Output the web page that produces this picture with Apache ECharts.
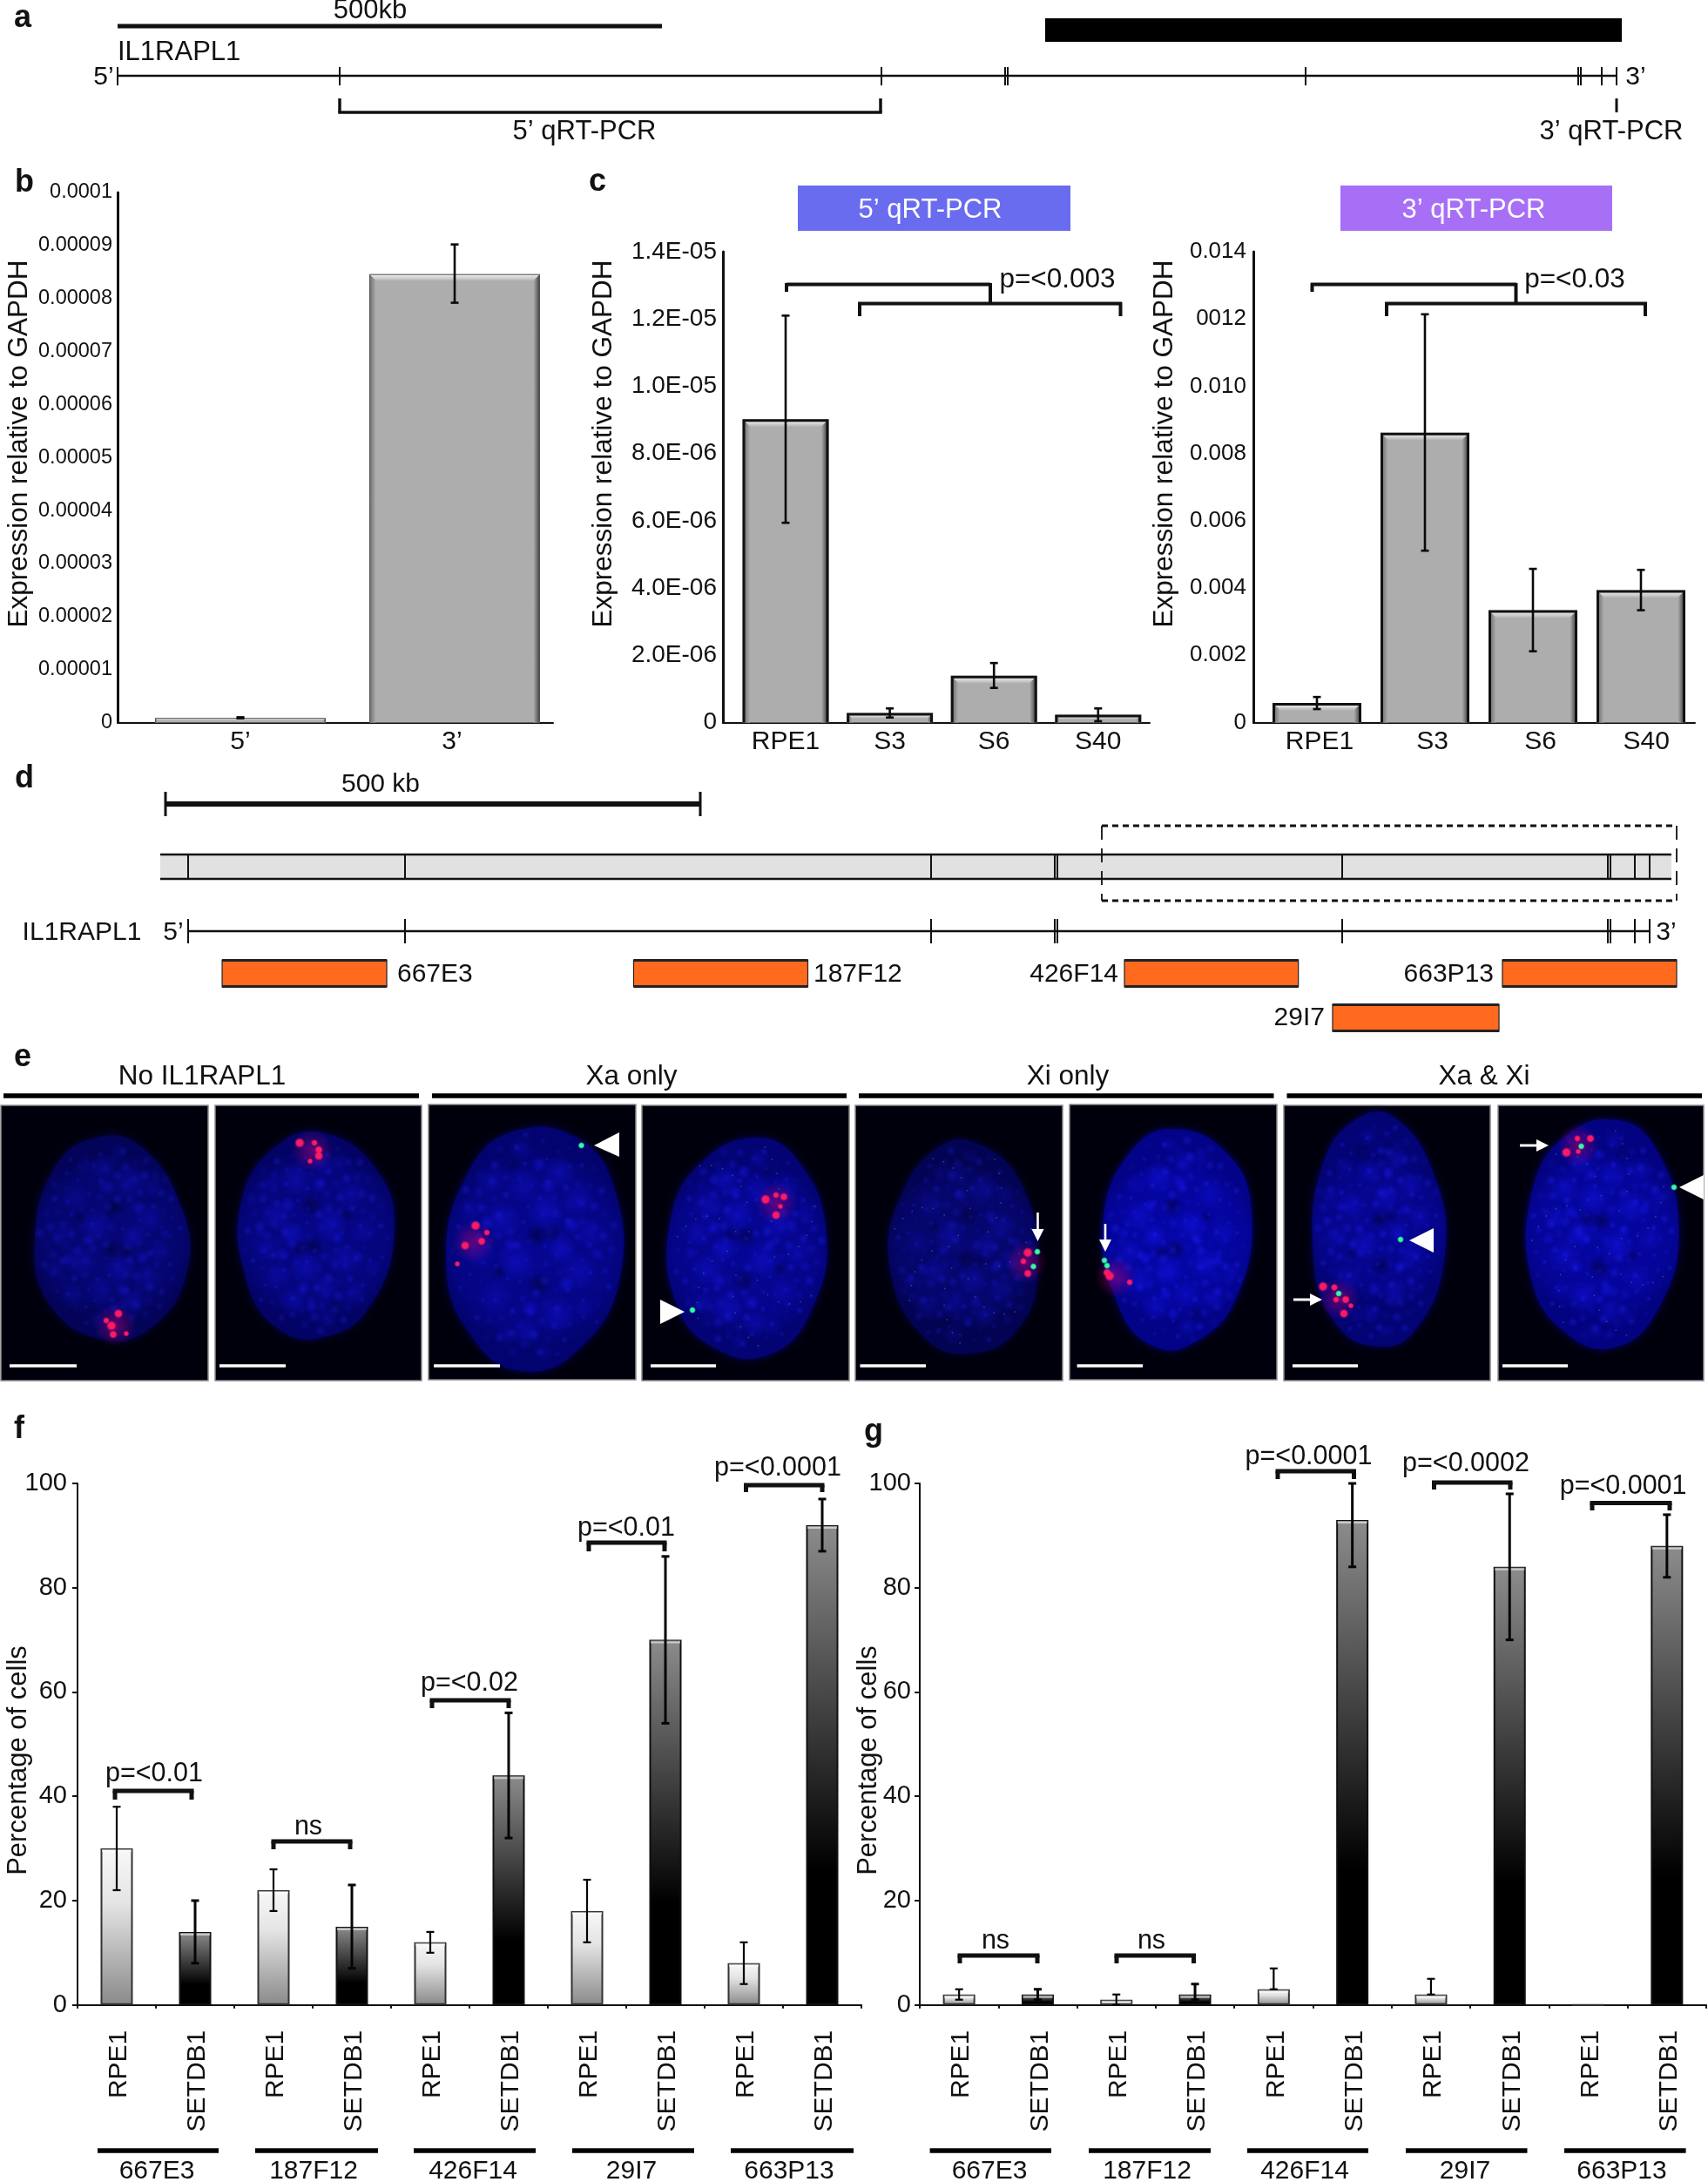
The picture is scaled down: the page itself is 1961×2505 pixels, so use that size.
<!DOCTYPE html>
<html><head><meta charset="utf-8"><title>IL1RAPL1</title>
<script src="https://cdn.jsdelivr.net/npm/echarts@6/dist/echarts.min.js"></script>
<style>html,body{margin:0;padding:0;background:#fff}#c{width:1961px;height:2505px}</style></head>
<body><div id="c"></div>
<script>
// ---------- panel b ----------
const bCategories=['5’','3’'];
const bValues=[8.7e-7,8.46e-5];
const bHigh=[1.0e-6,9.02e-5];
const bLow=[8.0e-7,7.92e-5];
const bTicks=['0','0.00001','0.00002','0.00003','0.00004','0.00005','0.00006','0.00007','0.00008','0.00009','0.0001'];
// ---------- panel c ----------
const cCategories=['RPE1','S3','S6','S40'];
const c5Values=[9.02e-6,2.85e-7,1.39e-6,2.3e-7];
const c5High=[1.21e-5,4.2e-7,1.77e-6,4.2e-7];
const c5Low=[5.94e-6,1.5e-7,1.03e-6,4e-8];
const c5Ticks=['0','2.0E-06','4.0E-06','6.0E-06','8.0E-06','1.0E-05','1.2E-05','1.4E-05'];
const c3Values=[5.8e-4,8.62e-3,3.34e-3,3.94e-3];
const c3High=[7.6e-4,1.214e-2,4.57e-3,4.54e-3];
const c3Low=[4.0e-4,5.11e-3,2.12e-3,3.34e-3];
const c3Ticks=['0','0.002','0.004','0.006','0.008','0.010','0012','0.014'];
// ---------- panels f, g ----------
const probes=['667E3','187F12','426F14','29I7','663P13'];
const cellLines=['RPE1','SETDB1'];
const pctTicks=['0','20','40','60','80','100'];
const fRpe1=[30,22,12,18,8];
const fRpe1High=[38,26,14,24,12];
const fRpe1Low=[22,18,10,12,4];
const fSetdb1=[14,15,44,70,92];
const fSetdb1High=[20,23,56,86,97];
const fSetdb1Low=[8,7,32,54,87];
const gRpe1=[2,1,3,2,0];
const gRpe1High=[3,2,7,5,null];
const gRpe1Low=[1,0,3,2,null];
const gSetdb1=[2,2,93,84,88];
const gSetdb1High=[3,4,100,98,94];
const gSetdb1Low=[1,1,84,70,82];
// ---------- gene models (kb from the 5' end) ----------
const exonsA=[0,204,701.6,815.2,817.6,1091,1341.6,1344,1363,1377];
const exonsD=[0,202.8,694.6,810.3,812.7,1079,1327.4,1329.8,1352.6,1366.4];
const cloneNames=['667E3','187F12','426F14','663P13','29I7'];
const cloneStart=[31.8,416.5,875.4,1228.8,1070];
const cloneEnd=[185.7,579.4,1038,1391.7,1225.6];
const cloneRow=[0,0,0,0,1];

const FONT='"Liberation Sans",Arial,sans-serif', INK='#111';
const grids=[],xAxes=[],yAxes=[],series=[],gfx=[];

// graphic helpers
const line=(x1,y1,x2,y2,w,c,dash)=>gfx.push({type:'line',silent:true,shape:{x1,y1,x2,y2},style:{stroke:c||INK,lineWidth:w||2,lineDash:dash||null}});
const rect=(x,y,w,h,fill,stroke,lw)=>gfx.push({type:'rect',silent:true,shape:{x,y,width:w,height:h},style:{fill,stroke:stroke||null,lineWidth:lw||0}});
const txt=(s,x,y,size,o)=>{o=o||{};const r=o.rot||0;gfx.push({type:'text',silent:true,x:r?x+1.5:x,y:r?y:y+1.5,rotation:r,style:{text:s,fontSize:size,fontFamily:FONT,fontWeight:o.bold?'bold':'normal',fill:o.fill||INK,textAlign:o.align||'center',textVerticalAlign:'middle'}});};
const tri=(pts,fill)=>gfx.push({type:'polygon',silent:true,shape:{points:pts},style:{fill:fill||'#fff'}});
const bracket=(x1,x2,y,leg,w)=>{const h=(w||5)/2;line(x1-h,y,x2+h,y,w||5);line(x1,y,x1,leg,w||5);line(x2,y,x2,leg,w||5);};
const lgrad=(x,y,x2,y2,a,b)=>({type:'linear',x,y,x2,y2,colorStops:[{offset:0,color:a},{offset:1,color:b}]});

// ---------- bevelled bars on a value x axis (b, c) ----------
function bevelPanel(o){
  const g=grids.length;
  grids.push({left:o.left,top:o.top,width:o.right-o.left,height:o.bottom-o.top,containLabel:false});
  xAxes.push({gridIndex:g,type:'value',min:(o.left-o.c0)/o.sp,max:(o.right-o.c0)/o.sp,splitLine:{show:false},axisTick:{show:false},
    axisLine:{show:true,onZero:false,lineStyle:{color:INK,width:o.xw||2}},
    axisLabel:{customValues:o.labelAt,formatter:v=>o.cats[Math.round(v)],color:INK,fontFamily:FONT,fontSize:30,margin:7,hideOverlap:false}});
  yAxes.push({gridIndex:g,type:'value',min:0,max:o.max,interval:o.interval,splitLine:{show:false},axisTick:{show:false},
    axisLine:{show:true,onZero:false,lineStyle:{color:INK,width:3}},
    axisLabel:{formatter:v=>o.ticks[Math.round(v/o.interval)],color:INK,fontFamily:FONT,fontSize:o.tickSize,margin:o.tickMargin,showMinLabel:true,showMaxLabel:true}});
  series.push({type:'bar',name:o.name,xAxisIndex:g,yAxisIndex:g,barWidth:o.barW,data:o.values.map((v,i)=>[i,v]),z:2,
    itemStyle:{color:'#adadad'}});
  const bev=o.bevel, W=o.barW, bw=o.bw;
  series.push({type:'custom',name:o.name+' bevel',silent:true,xAxisIndex:g,yAxisIndex:g,z:3,data:o.values.map((v,i)=>[i,v]),
    renderItem:(p,api)=>{
      const a=api.coord([api.value(0),api.value(1)]),b=api.coord([api.value(0),0]);
      const L=a[0]-W/2,R=a[0]+W/2,T=a[1],bt=b[1];
      const l=L+bw/2,r=R-bw/2,t=T+bw/2;
      const B=Math.min(bev,(bt-t)/2);
      const bs={stroke:o.border,lineWidth:bw};
      return {type:'group',children:[
        {type:'polygon',shape:{points:[[l,t],[r,t],[r-B,t+B],[l+B,t+B]]},style:{fill:lgrad(0,0,0,1,'#f2f2f2','#b4b4b4')}},
        {type:'polygon',shape:{points:[[l,t],[l+B,t+B],[l+B,bt],[l,bt]]},style:{fill:lgrad(0,0,1,0,'#6e6e6e','#adadad')}},
        {type:'polygon',shape:{points:[[r,t],[r-B,t+B],[r-B,bt],[r,bt]]},style:{fill:lgrad(1,0,0,0,'#454545','#adadad')}},
        {type:'polyline',shape:{points:[[l,bt],[l,t],[r,t],[r,bt]]},style:{...bs,fill:null}}
      ]};
    }});
  series.push({type:'custom',name:o.name+' error',silent:true,xAxisIndex:g,yAxisIndex:g,z:4,data:o.high.map((h,i)=>[i,h,o.low[i]]),
    encode:{x:0,y:[1,2]},
    renderItem:(p,api)=>{
      const a=api.coord([api.value(0),api.value(1)]),b=api.coord([api.value(0),api.value(2)]);
      const st={stroke:'#0a0a0a',lineWidth:2.6},c=4.5;
      return {type:'group',children:[
        {type:'line',shape:{x1:a[0],y1:a[1],x2:b[0],y2:b[1]},style:st},
        {type:'line',shape:{x1:a[0]-c,y1:a[1],x2:a[0]+c,y2:a[1]},style:st},
        {type:'line',shape:{x1:b[0]-c,y1:b[1],x2:b[0]+c,y2:b[1]},style:st}]};
    }});
}
bevelPanel({name:'b',left:135,right:635,top:221,bottom:829.5,c0:276,sp:246,barW:196,bw:1,bevel:7,border:'#555',cats:bCategories,labelAt:[0,0.988],
  values:bValues,high:bHigh,low:bLow,max:1e-4,interval:1e-5,ticks:bTicks,tickSize:23.5,tickMargin:6});
bevelPanel({name:'c5',left:830,right:1320,top:289,bottom:829.5,c0:902,sp:119.6,barW:99,bw:3,bevel:7,border:'#111',cats:cCategories,labelAt:[0,1,2,3],
  values:c5Values,high:c5High,low:c5Low,max:1.4e-5,interval:2e-6,ticks:c5Ticks,tickSize:28,tickMargin:7});
bevelPanel({name:'c3',left:1439,right:1946,top:289,bottom:829.5,c0:1512,sp:124,barW:102,bw:3,bevel:7,border:'#111',cats:cCategories,labelAt:[0.024,1.07,2.07,3.05],
  values:c3Values,high:c3High,low:c3Low,max:0.014,interval:0.002,ticks:c3Ticks,tickSize:26,tickMargin:8});

// ---------- grouped percentage panels (f, g) ----------
function pctPanel(o){
  const g=grids.length;
  grids.push({left:o.left,top:1703,width:o.right-o.left,height:2301.7-1703,containLabel:false});
  const cats=[];probes.forEach(()=>cats.push(...cellLines));
  xAxes.push({gridIndex:g,type:'category',data:cats,axisTick:{show:true,length:4,lineStyle:{color:INK,width:2}},
    axisLine:{lineStyle:{color:INK,width:2}},
    axisLabel:{interval:0,rotate:90,margin:29,verticalAlign:'top',padding:[-12,0,0,0],color:INK,fontFamily:FONT,fontSize:30}});
  yAxes.push({gridIndex:g,type:'value',min:0,max:100,interval:20,splitLine:{show:false},axisTick:{show:true,length:6,lineStyle:{color:INK,width:2}},
    axisLine:{show:true,lineStyle:{color:INK,width:2}},
    axisLabel:{formatter:v=>pctTicks[Math.round(v/20)],color:INK,fontFamily:FONT,fontSize:29,margin:o.margin}});
  const every=(arr,off)=>{const r=[];arr.forEach(v=>{if(off)r.push(null);r.push(v);if(!off)r.push(null);});return r;};
  const lg=c=>({type:'linear',x:0,y:0,x2:0,y2:1,colorStops:c});
  series.push({type:'bar',name:'RPE1',xAxisIndex:g,yAxisIndex:g,barWidth:37,barGap:'-100%',z:2,data:every(o.rpe,0),
    itemStyle:{color:lg([{offset:0,color:'#f8f8f8'},{offset:.35,color:'#e4e4e4'},{offset:1,color:'#8a8a8a'}]),borderColor:'#333',borderWidth:2}});
  series.push({type:'bar',name:'SETDB1',xAxisIndex:g,yAxisIndex:g,barWidth:37,barGap:'-100%',z:2,data:every(o.set,1),
    itemStyle:{color:lg([{offset:0,color:'#8c8c8c'},{offset:.72,color:'#000'},{offset:1,color:'#000'}]),borderColor:'#111',borderWidth:2}});
  const ers=[];
  o.rpe.forEach((v,i)=>ers.push([i*2,v,o.rpeH[i],o.rpeL[i],2.2]));
  o.set.forEach((v,i)=>ers.push([i*2+1,v,o.setH[i],o.setL[i],3]));
  series.push({type:'custom',name:o.name+' error',silent:true,xAxisIndex:g,yAxisIndex:g,z:4,data:ers,encode:{x:0,y:[2,3]},
    renderItem:(p,api)=>{
      const i=api.value(0),top=api.coord([i,api.value(1)]),a=api.coord([i,api.value(2)]),b=api.coord([i,api.value(3)]);
      const kids=[];
      if(api.value(1)>0) kids.push({type:'rect',shape:{x:top[0]-17,y:top[1]+1,width:34,height:3},style:{fill:'rgba(255,255,255,.55)'}});
      if(!isNaN(api.value(2))){
        const st={stroke:'#050505',lineWidth:api.value(4)},c=4.5;
        kids.push({type:'line',shape:{x1:a[0],y1:a[1],x2:b[0],y2:b[1]},style:st},
          {type:'line',shape:{x1:a[0]-c,y1:a[1],x2:a[0]+c,y2:a[1]},style:st},
          {type:'line',shape:{x1:b[0]-c,y1:b[1],x2:b[0]+c,y2:b[1]},style:st});
      }
      return {type:'group',children:kids};
    }});
}
pctPanel({name:'f',left:89,right:989,margin:12,rpe:fRpe1,rpeH:fRpe1High,rpeL:fRpe1Low,set:fSetdb1,setH:fSetdb1High,setL:fSetdb1Low});
pctPanel({name:'g',left:1056,right:1959,margin:10,rpe:gRpe1,rpeH:gRpe1High,rpeL:gRpe1Low,set:gSetdb1,setH:gSetdb1High,setL:gSetdb1Low});

// ---------- gene-model tracks on hidden kb axes ----------
function kbAxis(origin,pxPerKb){
  const g=grids.length;
  grids.push({left:0,top:0,width:1961,height:2505,containLabel:false});
  xAxes.push({gridIndex:g,type:'value',show:false,min:-origin/pxPerKb,max:(1961-origin)/pxPerKb});
  yAxes.push({gridIndex:g,type:'value',show:false,min:0,max:1});
  return g;
}
function exonTrack(g,kbs,y1,y2,w,name){
  series.push({type:'custom',name,silent:true,xAxisIndex:g,yAxisIndex:g,z:3,data:kbs.map(k=>[k,0]),
    renderItem:(p,api)=>{const x=Math.round(api.coord([api.value(0),0])[0]);
      return {type:'line',shape:{x1:x,y1,x2:x,y2},style:{stroke:INK,lineWidth:w}};}});
}
const gA=kbAxis(135,1.25), gD=kbAxis(216,1.228);
exonTrack(gA,exonsA,77,98,2,'exons a');
exonTrack(gD,exonsD,981,1009,2,'exons d band');
exonTrack(gD,exonsD,1055,1083,2,'exons d');
const cloneY=[1102,1153];
series.push({type:'custom',name:'BAC clones',silent:true,xAxisIndex:gD,yAxisIndex:gD,z:3,
  data:cloneStart.map((s,i)=>[s,cloneEnd[i],cloneRow[i]]),
  renderItem:(p,api)=>{
    const a=api.coord([api.value(0),0])[0],b=api.coord([api.value(1),0])[0],y=cloneY[api.value(2)],h=31;
    return {type:'group',children:[
      {type:'rect',shape:{x:a,y,width:b-a,height:h},style:{fill:'#ff6a1f',stroke:'#222',lineWidth:1.2}},
      {type:'rect',shape:{x:a,y:y-1,width:b-a,height:3},style:{fill:'#222'}},
      {type:'rect',shape:{x:a,y:y+h-2,width:b-a,height:3},style:{fill:'#222'}}]};
  }});

// ---------- panel letters ----------
[['a',26,19.5],['b',28,208.5],['c',686,208],['d',28,893],['e',26,1212.5],['f',22,1639.5],['g',1003,1642.5]].forEach(l=>txt(l[0],l[1],l[2],36,{bold:true}));

// ---------- panel a ----------
line(135,30,760,30,5);txt('500kb',425,11,31);
rect(1200,21,662,27,'#000');
txt('IL1RAPL1',135,59,31,{align:'left'});
line(135,87,1856,87,2.4);
txt('5’',119,87,30);txt('3’',1878,87,30);
bracket(390,1011,129,113,3.5);
txt('5’ qRT-PCR',671,150,31);
line(1856,113,1856,129,3);
txt('3’ qRT-PCR',1850,150,31);

// ---------- b, c titles and brackets ----------
const yTitle='Expression relative to GAPDH';
txt(yTitle,21,509.5,31.5,{rot:Math.PI/2});
txt(yTitle,692,509.5,31.5,{rot:Math.PI/2});
txt(yTitle,1336,509.5,31.5,{rot:Math.PI/2});
rect(916,213,313,52,'#6a6cf0');txt('5’ qRT-PCR',1068,240,31,{fill:'#fff'});
rect(1539,213,312,52,'#a76ff6');txt('3’ qRT-PCR',1692,240,31,{fill:'#fff'});
line(903,326.5,1137,326.5,4);line(903,325,903,335,4);line(1137,325,1137,349,4);
line(985,348.5,1288,348.5,4);line(987,347,987,363,4);line(1286.5,347,1286.5,363,4);
txt('p=<0.003',1214,320,31.5);
line(1505,326.5,1741,326.5,4);line(1506.5,325,1506.5,335,4);line(1740.5,325,1740.5,349,4);
line(1590,348.5,1891,348.5,4);line(1592,347,1592,363,4);line(1889,347,1889,363,4);
txt('p=<0.03',1808,320,31.5);

// ---------- panel d ----------
line(190,923,804,923,6);line(190,909,190,937,3);line(804,909,804,937,3);
txt('500 kb',437,899,30);
rect(184,981,1735,28,'#e1e1e1');
line(184,981,1919,981,2.6);line(184,1009,1919,1009,2.6);
line(1265,948,1925,948,3,INK,[7,5]);line(1265,1034,1925,1034,3,INK,[7,5]);
line(1265,948,1265,1034,1.8,INK,[16,10]);line(1925,948,1925,1034,1.8,INK,[16,10]);
txt('IL1RAPL1',94,1069,30);txt('5’',199,1069,30);txt('3’',1913,1069,30);
line(216,1069,1894,1069,2.4);
txt('667E3',456,1117,30,{align:'left'});txt('187F12',934,1117,30,{align:'left'});
txt('426F14',1284,1117,30,{align:'right'});txt('663P13',1715,1117,30,{align:'right'});
txt('29I7',1521,1167,30,{align:'right'});

// ---------- panel e (fluorescence micrographs, illustrative texture only) ----------
[['No IL1RAPL1',232,4,481],['Xa only',725,496,972],['Xi only',1226,986,1462.5],['Xa & Xi',1704,1477.5,1954]].forEach(h=>{
  txt(h[0],h[1],1235,31.5);line(h[2],1258,h[3],1258,5.5,'#000');
});
const chromatin=[[-.1,-.7,.16,.6],[.25,-.55,.2,.7],[-.45,-.4,.18,.5],[.05,-.3,.14,-.6],[.5,-.2,.2,.7],[-.2,-.12,.2,.8],[-.62,-.05,.17,.5],
 [.3,-.02,.16,.9],[.02,.1,.13,-.7],[.62,.12,.17,.6],[-.38,.22,.2,.7],[.12,.3,.2,.8],[-.72,.3,.12,.4],[.48,.38,.18,.6],[-.12,.5,.18,.6],[-.5,.55,.15,.5],
 [.28,.62,.17,.7],[-.15,.8,.13,.5],[.1,-.85,.11,.4],[-.32,-.72,.12,.4],[.55,-.5,.12,.4],[-.05,-.5,.1,.9],[.42,.18,.09,1],[-.28,.02,.08,1],[.15,.5,.09,1],
 [-.55,.2,.08,.8],[.35,-.3,.09,1],[-.4,-.2,.08,-.5],[.2,.12,.1,-.5],[-.25,.68,.1,-.4],[.05,.68,.08,1],[.7,-.05,.08,.7]];
const panels=[
 {x:1,y:1269,w:238,h:316,n:[127,1422,89,118,-.06],egg:.05,ph:.4,b:.5,
  red:[[128,1522],[122,1516],[130,1532],[145,1531],[136,1508]],green:[],bar:[11,88]},
 {x:247,y:1269,w:237,h:316,n:[362,1419,90,119,.03],egg:-.04,ph:1.7,b:.65,
  red:[[344,1312],[361,1312],[366,1320],[356,1333],[366,1327]],green:[],bar:[252,328]},
 {x:492,y:1268,w:238,h:316,n:[614,1432,102,141,.08],egg:.03,ph:3.1,b:.75,
  red:[[546,1407],[559,1415],[553,1425],[525,1451],[534,1430]],green:[[667.5,1315]],bar:[498,574],
  tri:[[682,1315],[711,1300],[711,1328]]},
 {x:737,y:1269,w:238,h:316,n:[858,1432,92,127,.05],egg:.04,ph:4.2,b:.8,speck:true,
  red:[[879,1377],[891,1372],[900,1374],[896,1385],[891,1395]],green:[[795,1504]],bar:[747,822],
  tri:[[786,1506],[758,1492],[758,1520]]},
 {x:982,y:1269,w:238,h:316,n:[1107,1433,86,123,-.04],egg:.04,ph:5.3,b:.45,speck:true,
  red:[[1180,1438],[1175,1448],[1180,1462]],green:[[1191,1437],[1186.5,1454]],bar:[987.5,1063],
  arrow:[1191.5,1392,1191.5,1425]},
 {x:1228,y:1268,w:238,h:316,n:[1351,1422,86,127,.05],egg:-.05,ph:2.3,b:1,
  red:[[1274,1465],[1297,1472],[1271,1461]],green:[[1271,1453],[1268,1447]],bar:[1236.6,1312],
  arrow:[1269,1405,1269,1437]},
 {x:1474,y:1269,w:237,h:316,n:[1582,1413,77,135,-.02],egg:.03,ph:.9,b:.8,
  red:[[1519,1477],[1534,1492],[1545,1492],[1551,1499],[1543,1508],[1532,1478]],green:[[1537,1485],[1608,1423]],bar:[1484,1559],
  arrow:[1485,1492,1518,1492],tri:[[1618,1424],[1646,1410],[1646,1438]]},
 {x:1720,y:1269,w:236,h:316,n:[1840,1415,88,132,.03],egg:.03,ph:3.8,b:.95,speck:true,
  red:[[1798.5,1323],[1811,1307],[1826,1307],[1812,1322]],green:[[1815.5,1316],[1922,1363]],bar:[1725,1800],
  arrow:[1745,1315,1778,1315],tri:[[1928,1363],[1956,1349],[1956,1377]]}
];
const spotSize=[6,4,5,3.5,5.5,4.5];
function spot(x,y,r,col,halo){gfx.push({type:'circle',silent:true,shape:{cx:x,cy:y,r},style:{fill:{type:'radial',x:.5,y:.5,r:.5,colorStops:[{offset:0,color:col},{offset:.55,color:col},{offset:1,color:halo}]}}});}
panels.forEach((p,idx)=>{
  rect(p.x,p.y,p.w,p.h,'#00000c','#8a8a8a',1.5);
  const [cx,cy,rx,ry,rot]=p.n, base=Math.round(62+95*p.b);
  const pts=[];
  for(let k=0;k<64;k++){
    const t=k/64*Math.PI*2;
    const m=1+.012*Math.sin(3*t+p.ph)+.009*Math.sin(5*t+2*p.ph)+.007*Math.sin(9*t+3*p.ph);
    const yy=Math.sin(t)*ry*m, xx=Math.cos(t)*rx*m*(1+p.egg*Math.sin(t));
    pts.push([cx+xx*Math.cos(rot)-yy*Math.sin(rot),cy+xx*Math.sin(rot)+yy*Math.cos(rot)]);
  }
  gfx.push({type:'polygon',silent:true,shape:{points:pts},
    style:{fill:{type:'radial',x:.5,y:.5,r:.55,colorStops:[{offset:0,color:`rgb(6,6,${base+12})`},{offset:.8,color:`rgb(5,5,${base})`},{offset:1,color:`rgb(3,3,${base-22})`}]},shadowBlur:9,shadowColor:`rgb(2,2,${base-30})`}});
  const fu=idx%2?-1:1, fv=idx%4>1?-1:1;
  chromatin.forEach(c=>{
    const u=c[0]*fu*rx,v=c[1]*fv*ry,s=c[3];
    const col=s>0?`rgba(25,25,255,${(.5*s*(.35+.65*p.b)).toFixed(2)})`:`rgba(0,0,30,${(-.7*s).toFixed(2)})`;
    const tr=s>0?'rgba(25,25,255,0)':'rgba(0,0,30,0)';
    gfx.push({type:'circle',silent:true,shape:{cx:cx+u,cy:cy+v,r:c[2]*rx*1.1},style:{fill:{type:'radial',x:.5,y:.5,r:.5,colorStops:[{offset:0,color:col},{offset:1,color:tr}]}}});
  });
  // fine granular chromatin on a golden-angle lattice
  for(let i=1;i<=130;i++){
    const rr=Math.sqrt(i/130)*.93, an=i*2.39996+idx*.7;
    const al=(.10+.28*(.5+.5*Math.sin(i*1.7+idx*2.1)))*(.45+.55*p.b), sz=3+4*(.5+.5*Math.sin(i*.9+idx));
    gfx.push({type:'circle',silent:true,shape:{cx:cx+Math.cos(an)*rr*rx,cy:cy+Math.sin(an)*rr*ry,r:sz},
      style:{fill:{type:'radial',x:.5,y:.5,r:.5,colorStops:[{offset:0,color:`rgba(35,35,255,${al.toFixed(2)})`},{offset:1,color:'rgba(35,35,255,0)'}]}}});
    if(p.speck&&i%3===0) gfx.push({type:'circle',silent:true,shape:{cx:cx+Math.sin(an)*rr*rx*1.02,cy:cy+Math.cos(an)*rr*ry*1.02,r:.9},style:{fill:'rgba(40,200,120,.4)'}});
  }
  if(p.red.length){
    const mx=p.red.reduce((a,r)=>a+r[0],0)/p.red.length,my=p.red.reduce((a,r)=>a+r[1],0)/p.red.length;
    gfx.push({type:'circle',silent:true,shape:{cx:mx,cy:my,r:24},style:{fill:{type:'radial',x:.5,y:.5,r:.5,colorStops:[{offset:0,color:'rgba(190,0,110,.5)'},{offset:1,color:'rgba(190,0,110,0)'}]}}});
  }
  p.red.forEach((r,i)=>spot(r[0],r[1],spotSize[i%6],'#ff1a66','rgba(255,20,100,0)'));
  p.green.forEach(r=>spot(r[0],r[1],4,'#34ffa0','rgba(40,255,160,0)'));
  line(p.bar[0],1568,p.bar[1],1568,3.5,'#fff');
  if(p.tri) tri(p.tri);
  if(p.arrow){
    const [a,b,c,d]=p.arrow;
    if(a===c){line(a,b,c,d-10,2.6,'#fff');tri([[c,d],[c-7,d-14],[c+7,d-14]]);}
    else{line(a,b,c-10,d,3,'#fff');tri([[c,d],[c-14,d-7],[c-14,d+7]]);}
  }
});

// ---------- f, g annotations ----------
const pTitle='Percentage of cells';
txt(pTitle,20,2021,31,{rot:Math.PI/2});
txt(pTitle,996,2021,31,{rot:Math.PI/2});
function groupBars(xs,labels){xs.forEach((s,i)=>{line(s[0],2469,s[1],2469,5.5,'#000');txt(probes[i],labels[i],2491,30);});}
groupBars([[112,251],[293,434],[475,615],[657,797],[839,980]],[180,360,543,725,906]);
groupBars([[1067.6,1207],[1250,1390],[1432,1571],[1614,1753.5],[1796,1935.6]],[1136,1317,1498,1682,1862]);
[['p=<0.01',132,220,2056,2065,177,2035],['ns',314,402,2114,2122,354,2096],['p=<0.02',496,584,1952,1960,539,1931],
 ['p=<0.01',676,763,1771,1780,719,1753],['p=<0.0001',856.5,944,1705,1712,893,1684],
 ['ns',1102,1191,2245,2253,1143,2227],['ns',1282,1370.5,2245,2253,1322,2227],['p=<0.0001',1467,1554.5,1689,1697,1502.5,1671],
 ['p=<0.0002',1646.5,1734,1702,1709,1683,1679],['p=<0.0001',1828,1917,1725.5,1733,1863.6,1705]
].forEach(b=>{bracket(b[1],b[2],b[3],b[4]+1,5);txt(b[0],b[5],b[6],30.5);});

const chart=echarts.init(document.getElementById('c'),null,{renderer:'canvas',width:1961,height:2505});
chart.setOption({animation:false,backgroundColor:'#fff',tooltip:{show:false},grid:grids,xAxis:xAxes,yAxis:yAxes,series,graphic:{elements:gfx}});
</script></body></html>
